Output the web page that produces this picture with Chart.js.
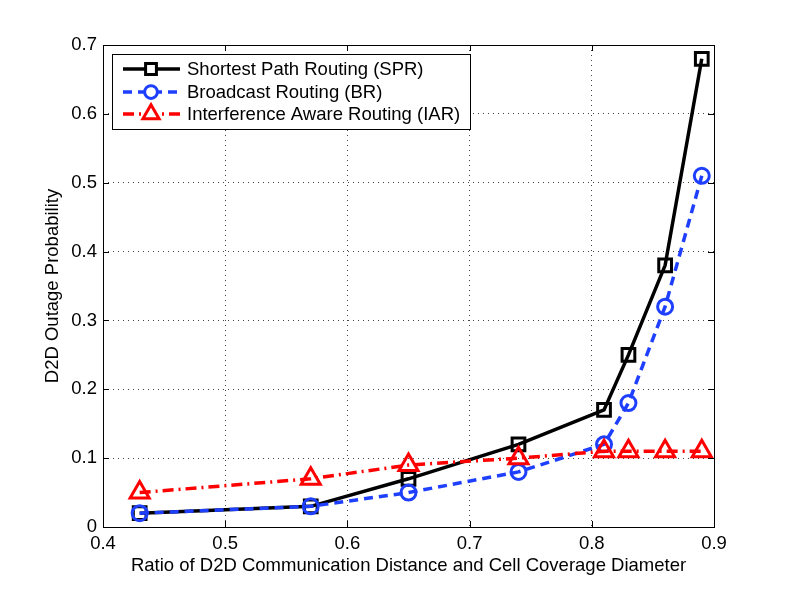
<!DOCTYPE html>
<html><head><meta charset="utf-8">
<script src="https://cdn.jsdelivr.net/npm/chart.js@4.4.0/dist/chart.umd.min.js"></script>
<style>html,body{margin:0;padding:0;background:#fff;}#wrap{width:789px;height:594px;}</style>
</head><body><div id="wrap"><canvas id="c" width="789" height="594"></canvas></div>
<script>
const xValues = [0.43, 0.57, 0.65, 0.74, 0.81, 0.83, 0.86, 0.89];
const sprValues = [0.02, 0.03, 0.07, 0.12, 0.17, 0.25, 0.38, 0.68];
const brValues = [0.02, 0.03, 0.05, 0.08, 0.12, 0.18, 0.32, 0.51];
const iarValues = [0.05, 0.07, 0.09, 0.10, 0.11, 0.11, 0.11, 0.11];
const seriesNames = ['Shortest Path Routing (SPR)', 'Broadcast Routing (BR)', 'Interference Aware Routing (IAR)'];
const xTicks = [0.4, 0.5, 0.6, 0.7, 0.8, 0.9];
const yTicks = [0, 0.1, 0.2, 0.3, 0.4, 0.5, 0.6, 0.7];
const xTitle = 'Ratio of D2D Communication Distance and Cell Coverage Diameter';
const yTitle = 'D2D Outage Probability';

const FONT = '"Liberation Sans", Arial, Helvetica, sans-serif';
const FS = 18.5;
const pts = v => v.map((y, i) => ({x: xValues[i], y}));

const styles = [
  {color:'#000000', dash:[], pointStyle:'rect', radius:9},
  {color:'#1f3fff', dash:[9,6], pointStyle:'circle', radius:7.5},
  {color:'#ff0000', dash:[11,5,2,5], pointStyle:'triangle', radius:11}
];
const dataArr = [sprValues, brValues, iarValues];

const framePlugin = {
  id: 'frame',
  afterDraw(chart) {
    const {ctx, chartArea: a, scales} = chart;
    ctx.save();
    ctx.strokeStyle = '#000';
    ctx.lineWidth = 1;
    ctx.setLineDash([]);
    ctx.strokeRect(a.left + 0.5, a.top + 0.5, a.right - a.left, a.bottom - a.top);
    const tl = 6;
    ctx.beginPath();
    xTicks.forEach(t => {
      const x = Math.round(scales.x.getPixelForValue(t)) + 0.5;
      ctx.moveTo(x, a.bottom); ctx.lineTo(x, a.bottom - tl);
      ctx.moveTo(x, a.top); ctx.lineTo(x, a.top + tl);
    });
    yTicks.forEach(t => {
      const y = Math.round(scales.y.getPixelForValue(t)) + 0.5;
      ctx.moveTo(a.left, y); ctx.lineTo(a.left + tl, y);
      ctx.moveTo(a.right, y); ctx.lineTo(a.right - tl, y);
    });
    ctx.stroke();

    // legend box
    const bx = 112, by = 54, bw = 358, bh = 75;
    ctx.fillStyle = '#fff';
    ctx.fillRect(bx, by, bw, bh);
    ctx.strokeRect(bx + 0.5, by + 0.5, bw, bh);
    const rows = [69, 92, 114];
    ctx.font = FS + 'px ' + FONT;
    ctx.textBaseline = 'middle';
    rows.forEach((ry, i) => {
      const s = styles[i];
      ctx.strokeStyle = s.color;
      ctx.lineWidth = 3.5;
      ctx.setLineDash(s.dash);
      ctx.beginPath(); ctx.moveTo(123, ry); ctx.lineTo(180, ry); ctx.stroke();
      ctx.setLineDash([]);
      ctx.lineWidth = 3;
      ctx.fillStyle = '#fff';
      Chart.helpers.drawPoint(ctx, {pointStyle: s.pointStyle, radius: s.radius * 0.85, rotation: 0, borderWidth: 3}, 151, ry);
      ctx.fillStyle = '#000';
      ctx.fillText(seriesNames[i], 187, ry + 1);
    });
    ctx.restore();
  }
};

const gridOpts = {color: '#444', drawTicks: false, lineWidth: 1};
const borderOpts = {display: false, dash: [1, 4]};

new Chart(document.getElementById('c'), {
  type: 'line',
  data: {
    datasets: dataArr.map((d, i) => ({
      label: seriesNames[i],
      data: pts(d),
      borderColor: styles[i].color,
      backgroundColor: '#ffffff',
      borderWidth: 3.5,
      borderDash: styles[i].dash,
      pointStyle: styles[i].pointStyle,
      pointRadius: styles[i].radius,
      pointBorderWidth: 3,
      pointBorderColor: styles[i].color,
      pointBackgroundColor: 'rgba(255,255,255,0)',
      tension: 0,
      clip: false
    })).reverse()
  },
  options: {
    responsive: false,
    animation: false,
    devicePixelRatio: 1,
    layout: {padding: {left: 0, top: 45, right: 75, bottom: 0}},
    plugins: {legend: {display: false}, tooltip: {enabled: false}},
    scales: {
      x: {
        type: 'linear', min: 0.4, max: 0.9,
        afterBuildTicks: s => { s.ticks = xTicks.map(v => ({value: v})); },
        afterFit: s => { s.height = 67; },
        grid: gridOpts,
        border: borderOpts,
        ticks: {color: '#000', padding: 6, font: {family: FONT, size: FS}, maxRotation: 0,
                callback: v => String(Math.round(v * 10) / 10)},
        title: {display: true, text: xTitle, color: '#000', font: {family: FONT, size: FS}, padding: {top: 0, bottom: 17}}
      },
      y: {
        type: 'linear', min: 0, max: 0.7,
        afterBuildTicks: s => { s.ticks = yTicks.map(v => ({value: v})); },
        afterFit: s => { s.width = 103; },
        grid: gridOpts,
        border: borderOpts,
        ticks: {color: '#000', padding: 6, font: {family: FONT, size: FS},
                callback: v => String(Math.round(v * 10) / 10)},
        title: {display: true, text: yTitle, color: '#000', font: {family: FONT, size: FS}, padding: {top: 42, bottom: 0}}
      }
    }
  },
  plugins: [framePlugin]
});
</script></body></html>
